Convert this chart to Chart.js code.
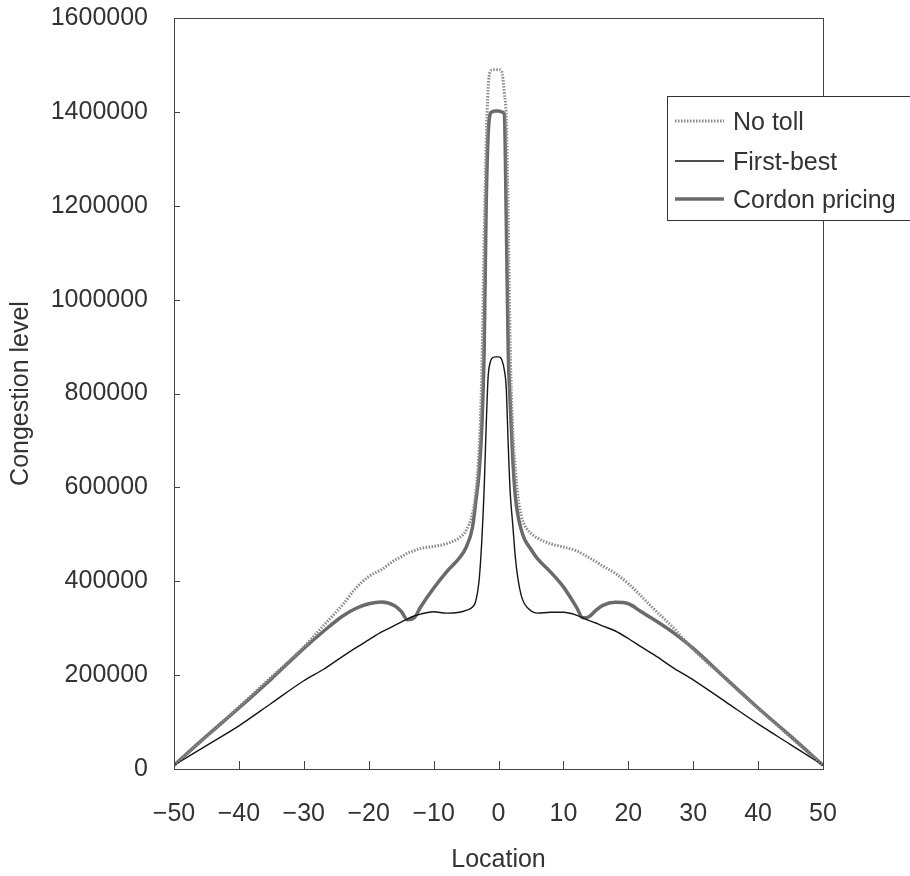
<!DOCTYPE html>
<html>
<head>
<meta charset="utf-8">
<script src="https://cdn.jsdelivr.net/npm/chart.js@4.4.1/dist/chart.umd.min.js"></script>
<style>
  html, body { margin: 0; padding: 0; background: #fff; }
  #wrap { width: 910px; height: 876px; }
</style>
</head>
<body>
<div id="wrap"><canvas id="congestion"></canvas></div>
<script>
const locations = [-50, -45, -40, -35, -30, -27, -24, -22, -20, -18, -16, -15, -14, -13, -12, -10, -8, -6, -5, -4, -3.5, -3, -2.6, -2.2, -1.9, -1.6, -1.3, -1, -0.5, 0, 0.5, 0.9, 1.2, 1.5, 1.8, 2.2, 2.6, 3, 3.5, 4, 5, 6, 8, 10, 12, 13, 14, 15, 16, 18, 20, 22, 24, 27, 30, 35, 40, 45, 50];

// values in thousands
const noToll = [8, 70, 132, 196, 260, 305, 350, 385, 410, 425, 445, 452, 460, 465, 470, 474, 480, 493, 508, 545, 590, 679, 830, 1130, 1330, 1450, 1485, 1489, 1490, 1490, 1486, 1440, 1385, 1168, 900, 720, 640, 580, 540, 520, 502, 492, 480, 473, 465, 458, 450, 442, 433, 417, 395, 368, 340, 300, 255, 192, 130, 68, 8];
const firstBest = [8, 50, 92, 140, 188, 212, 240, 258, 275, 292, 306, 313, 320, 326, 330, 335, 332, 334, 338, 345, 358, 400, 480, 600, 730, 835, 865, 875, 878, 878, 872, 850, 810, 690, 590, 520, 450, 405, 370, 352, 337, 332, 334, 334, 328, 322, 316, 311, 305, 294, 278, 260, 243, 215, 190, 143, 96, 52, 8];
const cordon = [8, 70, 130, 192, 257, 293, 326, 342, 352, 356, 348, 336, 318, 322, 345, 385, 420, 450, 472, 515, 570, 630, 720, 900, 1200, 1350, 1395, 1400, 1402, 1402, 1400, 1395, 1168, 890, 780, 660, 580, 540, 510, 490, 468, 448, 420, 388, 345, 322, 325, 338, 348, 355, 352, 335, 318, 290, 257, 193, 130, 70, 8];

const yTicks = [0, 200000, 400000, 600000, 800000, 1000000, 1200000, 1400000, 1600000];
const xTicks = [-50, -40, -30, -20, -10, 0, 10, 20, 30, 40, 50];

const seriesNames = ['No toll', 'First-best', 'Cordon pricing'];

function pts(vals) {
  return locations.map((x, i) => ({ x: x, y: vals[i] * 1000 }));
}

const FONT = "'Liberation Sans', Arial, sans-serif";

const frame = {
  id: 'frame',
  afterDatasetsDraw(chart) {
    const { ctx, chartArea: a, scales } = chart;
    ctx.save();
    ctx.strokeStyle = '#444';
    ctx.lineWidth = 1;
    ctx.strokeRect(a.left + 0.5, a.top + 0.5, a.right - a.left, a.bottom - a.top);
    ctx.beginPath();
    xTicks.forEach(v => {
      const px = Math.round(scales.x.getPixelForValue(v)) + 0.5;
      ctx.moveTo(px, a.bottom);
      ctx.lineTo(px, a.bottom - 8);
    });
    yTicks.forEach(v => {
      const py = Math.round(scales.y.getPixelForValue(v)) + 0.5;
      ctx.moveTo(a.left, py);
      ctx.lineTo(a.left + 6, py);
    });
    ctx.stroke();

    // legend box
    const bx = 667, by = 96, bw = 260, bh = 124;
    ctx.fillStyle = '#fff';
    ctx.fillRect(bx, by, bw, bh);
    ctx.strokeStyle = '#333';
    ctx.strokeRect(bx + 0.5, by + 0.5, bw, bh);
    const rows = [121, 161, 199];
    chart.data.datasets.forEach((ds, i) => {
      ctx.save();
      ctx.strokeStyle = ds.borderColor;
      ctx.lineWidth = ds.borderWidth;
      ctx.setLineDash(ds.borderDash || []);
      ctx.beginPath();
      ctx.moveTo(675, rows[i]);
      ctx.lineTo(724, rows[i]);
      ctx.stroke();
      ctx.restore();
      ctx.fillStyle = '#333';
      ctx.font = '25px ' + FONT;
      ctx.textBaseline = 'middle';
      ctx.fillText(ds.label, 733, rows[i] + 2);
    });
    ctx.restore();
  }
};

new Chart(document.getElementById('congestion'), {
  type: 'line',
  data: {
    datasets: [
      { label: seriesNames[0], data: pts(noToll), borderColor: '#8a8a8a', borderWidth: 3, borderDash: [1.5, 1.5] },
      { label: seriesNames[1], data: pts(firstBest), borderColor: '#151515', borderWidth: 1.4 },
      { label: seriesNames[2], data: pts(cordon), borderColor: '#6a6a6a', borderWidth: 3.5 }
    ]
  },
  options: {
    responsive: true,
    maintainAspectRatio: false,
    animation: false,
    layout: { padding: { top: 18, right: 87, left: 0, bottom: 0 } },
    elements: {
      point: { radius: 0 },
      line: { cubicInterpolationMode: 'monotone', fill: false }
    },
    plugins: {
      legend: { display: false },
      tooltip: { enabled: false }
    },
    scales: {
      x: {
        type: 'linear',
        min: -50, max: 50,
        afterFit(s) { s.height = 107; s.paddingLeft = 0; s.paddingRight = 0; },
        afterBuildTicks(s) { s.ticks = xTicks.map(v => ({ value: v })); },
        grid: { display: false, drawTicks: false },
        border: { display: false },
        ticks: {
          padding: 30,
          color: '#333',
          font: { family: FONT, size: 25 },
          maxRotation: 0,
          callback: v => String(v).replace('-', '\u2212')
        },
        title: { display: true, text: 'Location', color: '#333', font: { family: FONT, size: 25 }, padding: { top: 0, bottom: 1 } }
      },
      y: {
        min: 0, max: 1600000,
        afterFit(s) { s.width = 174; s.paddingTop = 0; s.paddingBottom = 0; },
        afterBuildTicks(s) { s.ticks = yTicks.map(v => ({ value: v })); },
        grid: { display: false, drawTicks: false },
        border: { display: false },
        ticks: {
          padding: 26,
          color: '#333',
          font: { family: FONT, size: 25 },
          callback: v => String(v)
        },
        title: { display: true, text: 'Congestion level', color: '#333', font: { family: FONT, size: 25 }, padding: { top: 6, bottom: 0 } }
      }
    }
  },
  plugins: [frame]
});
</script>
</body>
</html>
